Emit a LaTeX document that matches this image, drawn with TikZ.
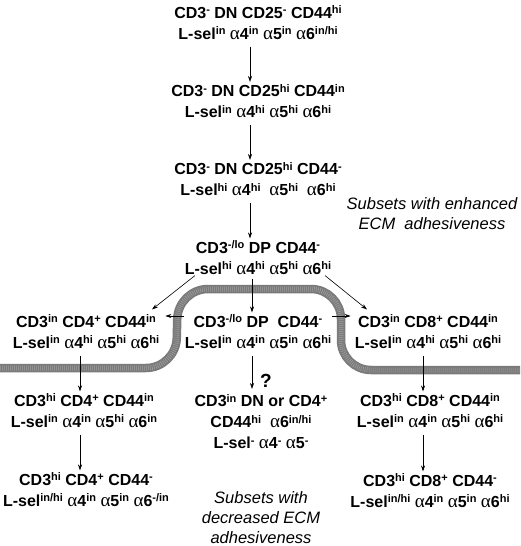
\documentclass[tikz,border=0pt]{standalone}
\usepackage{fontspec}
\setmainfont{Liberation Sans}
\newfontfamily\grk{Liberation Serif}
\usetikzlibrary{arrows.meta}
\newcommand\su[1]{\raisebox{4.5pt}{\fontsize{11}{11}\selectfont #1}}
\newcommand\al{{\grk\mdseries\fontsize{19}{21}\selectfont α}}
\begin{document}
\begin{tikzpicture}[x=1pt,y=-1pt,
  lab/.style={font=\fontsize{16}{21}\selectfont\bfseries, align=center, inner sep=1pt},
  note/.style={font=\fontsize{16.5}{20}\selectfont\itshape, align=center, inner sep=0pt},
  arr/.style={-{Stealth[length=6pt,width=4pt]}, line width=0.6pt},
  band/.style={line width=8.5pt, black!52, rounded corners=30pt}]
\useasboundingbox (0,0) rectangle (520,546);
% band
\draw[band] (0,368) -- (176,368) -- (178,289) -- (341,289) -- (341,370) -- (520,370);
\draw[line width=5pt, black!38, rounded corners=30pt, dash pattern=on 0.6pt off 1.4pt] (0,368) -- (176,368) -- (178,289) -- (341,289) -- (341,370) -- (520,370);
% nodes
\node[lab] (n1) at (258,22.5) {CD3\su{-} DN CD25\su{-} CD44\su{hi}\\L-sel\su{in} \al4\su{in} \al5\su{in} \al6\su{in/hi}};
\node[lab] (n2) at (258,101) {CD3\su{-} DN CD25\su{hi} CD44\su{in}\\L-sel\su{in} \al4\su{hi} \al5\su{hi} \al6\su{hi}};
\node[lab] (n3) at (258,179) {CD3\su{-} DN CD25\su{hi} CD44\su{-}\\L-sel\su{hi} \al4\su{hi}\ \ \al5\su{hi}\ \ \al6\su{hi}};
\node[lab] (n4) at (258,257.5) {CD3\su{-/lo} DP CD44\su{-}\\L-sel\su{hi} \al4\su{hi}\ \al5\su{hi}\ \al6\su{hi}};
\node[lab] (n5) at (258,331.5) {CD3\su{-/lo} DP\ \ CD44\su{-}\\L-sel\su{in} \al4\su{in}\ \al5\su{in}\ \al6\su{hi}};
\node[lab] (L1) at (86,331.5) {CD3\su{in} CD4\su{+} CD44\su{in}\\L-sel\su{in} \al4\su{hi} \al5\su{hi}\ \al6\su{hi}};
\node[lab] (R1) at (428,331.5) {CD3\su{in} CD8\su{+} CD44\su{in}\\L-sel\su{in} \al4\su{hi} \al5\su{hi} \al6\su{hi}};
\node[lab] (L2) at (84,410.5) {CD3\su{hi} CD4\su{+} CD44\su{in}\\L-sel\su{in} \al4\su{in} \al5\su{hi} \al6\su{in}};
\node[lab] (L3) at (86,489.5) {CD3\su{hi} CD4\su{+} CD44\su{-}\\L-sel\su{in/hi} \al4\su{in} \al5\su{in} \al6\su{-/in}};
\node[lab] (R2) at (430,410.5) {CD3\su{hi} CD8\su{+} CD44\su{in}\\L-sel\su{in} \al4\su{in} \al5\su{hi} \al6\su{hi}};
\node[lab] (R3) at (430,490.5) {CD3\su{hi} CD8\su{+} CD44\su{-}\\L-sel\su{in/hi}\ \al4\su{in} \al5\su{in} \al6\su{hi}};
\node[lab] (C) at (261,421.5) {CD3\su{in} DN or CD4\su{+}\\CD44\su{hi}\ \ \al6\su{in/hi}\\L-sel\su{-} \al4\su{-} \al5\su{-}};
\node[lab, font=\fontsize{19}{21}\selectfont\bfseries] (q) at (266,381) {?};
\node[note] (t1) at (432,214) {Subsets with enhanced\\ECM\ \ adhesiveness};
\node[note] (t2) at (261,518) {Subsets with\\decreased ECM\\adhesiveness};
% column coordinates
\coordinate (c1) at (250,0);
\coordinate (c2) at (252,0);
\coordinate (cl) at (80,0);
\coordinate (cr) at (423,0);
% arrows
\draw[arr, shorten <=6pt, shorten >=1pt] (n1.south -| c1) -- (n2.north -| c1);
\draw[arr, shorten <=6pt, shorten >=1pt] (n2.south -| c1) -- (n3.north -| c1);
\draw[arr, shorten <=6pt, shorten >=1pt] (n3.south -| c1) -- (n4.north -| c1);
\draw[arr, shorten <=3pt, shorten >=1pt] (n4.south -| c2) -- (n5.north -| c2);
\draw[arr] ([xshift=-63pt]n4.south) -- ([xshift=66pt,yshift=4pt]L1.north);
\draw[arr] ([xshift=67pt]n4.south) -- ([xshift=-61pt,yshift=4pt]R1.north);
\coordinate (hl) at ([yshift=15.5pt]n5.west);
\coordinate (hr) at ([yshift=15.5pt]n5.east);
\draw[arr, shorten >=5pt] (hl) -- (hl -| L1.east);
\draw[arr, shorten >=3pt] (hr) -- (hr -| R1.west);
\draw[arr, shorten <=6pt, shorten >=4pt] (n5.south -| c2) -- (C.north -| c2);
\draw[arr, shorten <=6pt, shorten >=1pt] (L1.south -| cl) -- (L2.north -| cl);
\draw[arr, shorten <=6pt, shorten >=1pt] (L2.south -| cl) -- (L3.north -| cl);
\draw[arr, shorten <=6pt, shorten >=1pt] (R1.south -| cr) -- (R2.north -| cr);
\draw[arr, shorten <=6pt, shorten >=1pt] (R2.south -| cr) -- (R3.north -| cr);
\end{tikzpicture}
\end{document}
